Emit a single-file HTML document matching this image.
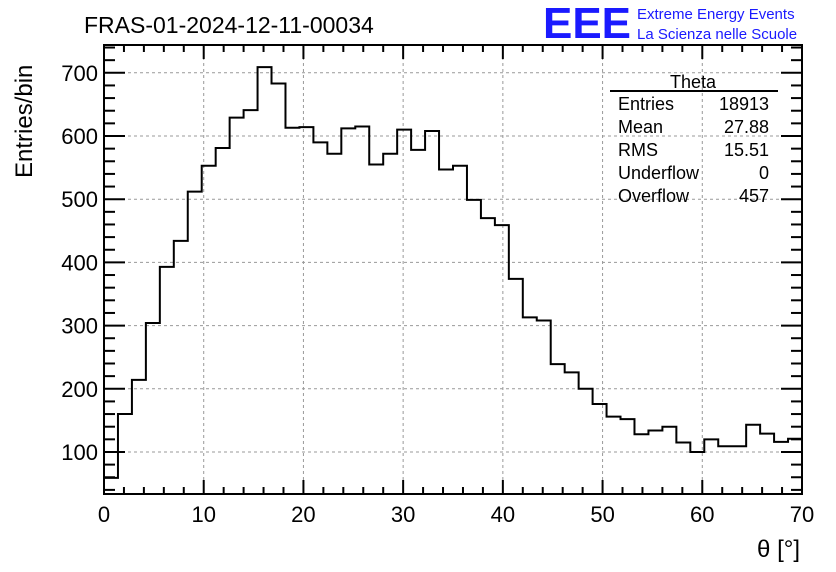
<!DOCTYPE html>
<html><head><meta charset="utf-8"><style>
body{margin:0;background:#fff;}
svg{display:block;font-family:"Liberation Sans",Arial,sans-serif;}
</style></head><body>
<svg id="c" width="836" height="572" xmlns="http://www.w3.org/2000/svg">
<rect width="836" height="572" fill="#fff"/>
<text x="84" y="33" font-size="23">FRAS-01-2024-12-11-00034</text>
<text x="543" y="38" font-size="44" fill="#1a1aff" font-weight="bold" textLength="88" lengthAdjust="spacingAndGlyphs">EEE</text>
<text x="637" y="19" font-size="15" fill="#1a1aff">Extreme Energy Events</text>
<text x="637" y="39" font-size="15" fill="#1a1aff">La Scienza nelle Scuole</text>
<text transform="translate(32,178) rotate(-90)" font-size="24">Entries/bin</text>
<text x="800" y="557" font-size="24" text-anchor="end">θ [°]</text>
<g id="grid"></g><g id="ticks"></g>
<path id="hist" fill="none" stroke="#000" stroke-width="2"/>
<rect x="104" y="45" width="698" height="449" fill="none" stroke="#000" stroke-width="2"/>
<g font-size="18">
<line x1="610" y1="91" x2="778" y2="91" stroke="#000" stroke-width="2"/>
<text x="693" y="88" text-anchor="middle">Theta</text>
<text x="618" y="110">Entries</text><text x="769" y="110" text-anchor="end">18913</text>
<text x="618" y="133">Mean</text><text x="769" y="133" text-anchor="end">27.88</text>
<text x="618" y="156">RMS</text><text x="769" y="156" text-anchor="end">15.51</text>
<text x="618" y="179">Underflow</text><text x="769" y="179" text-anchor="end">0</text>
<text x="618" y="202">Overflow</text><text x="769" y="202" text-anchor="end">457</text>
</g>
</svg>
<script>
const binEdgesStart = 0;
const binWidth = 1.4;
const counts = [59,160,214,304,393,434,512,553,581,629,641,709,683,613,614,590,572,612,615,555,572,610,578,608,547,553,499,470,459,374,313,308,239,226,200,176,156,152,128,134,140,115,100,120,109,109,143,129,116,121];
const xTicks = [0,10,20,30,40,50,60,70];
const yTicks = [100,200,300,400,500,600,700];
const X0=104,X1=802,Y0=494,Y1=45,xmin=0,xmax=70,ymin=33.5,ymax=744;
function sx(v){return X0+(v-xmin)/(xmax-xmin)*(X1-X0);}
function sy(v){return Y0-(v-ymin)/(ymax-ymin)*(Y0-Y1);}
const NS="http://www.w3.org/2000/svg";
const grid=document.getElementById('grid'),tk=document.getElementById('ticks');
function ln(p,x1,y1,x2,y2,st,w,d){const l=document.createElementNS(NS,'line');l.setAttribute('x1',x1);l.setAttribute('y1',y1);l.setAttribute('x2',x2);l.setAttribute('y2',y2);l.setAttribute('stroke',st);l.setAttribute('stroke-width',w);if(d)l.setAttribute('stroke-dasharray',d);p.appendChild(l);return l;}
function tx(p,x,y,s,a){const t=document.createElementNS(NS,'text');t.setAttribute('x',x);t.setAttribute('y',y);t.setAttribute('font-size',22);t.setAttribute('text-anchor',a);t.textContent=s;p.appendChild(t);return t;}
xTicks.forEach(v=>{const x=sx(v);
 const g=ln(grid,x,Y1,x,Y0,'#999',1,'3,3');
 
 
 ln(tk,x,Y0,x,Y0-14,'#000',2);ln(tk,x,Y1,x,Y1+14,'#000',2);
 const t=tx(tk,x,Y0+28,String(v),'middle');
 
 });
for(let v=xmin;v<=xmax;v+=2){if(v%10){const x=sx(v);ln(tk,x,Y0,x,Y0-7,'#000',2);ln(tk,x,Y1,x,Y1+7,'#000',2);}}
yTicks.forEach(v=>{const y=sy(v);
 const g=ln(grid,X0,y,X1,y,'#999',1,'3,3');
 
 
 ln(tk,X0,y,X0+21,y,'#000',2);ln(tk,X1,y,X1-21,y,'#000',2);
 const t=tx(tk,X0-6,y+8,String(v),'end');
 
 });
for(let v=40;v<ymax;v+=20){if(v%100){const y=sy(v);ln(tk,X0,y,X0+11,y,'#000',2);ln(tk,X1,y,X1-11,y,'#000',2);}}
let d='M'+sx(binEdgesStart)+','+Y0;
counts.forEach((c,i)=>{const a=sx(binEdgesStart+i*binWidth),b=sx(binEdgesStart+(i+1)*binWidth),y=sy(c);d+=' L'+a+','+y+' L'+b+','+y;});
document.getElementById('hist').setAttribute('d',d);
</script>
</body></html>
